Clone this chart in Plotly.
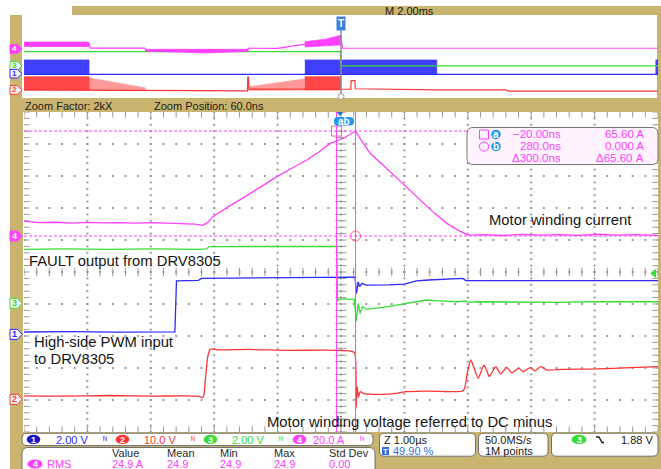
import numpy as np
import plotly.graph_objects as go

W, H = 661, 469

# ---------------------------------------------------------------------------
# Channel setup: volts (or amps) per division and ground-reference offset in
# divisions from graticule centre.
# ---------------------------------------------------------------------------
CH_SCALE = {1: 2.0, 2: 10.0, 3: 2.0, 4: 20.0}
CH_OFFSET = {1: -1.95, 2: -3.98, 3: -0.98, 4: 1.125}
CH_COLOR = {1: "#2b2bff", 2: "#ff3434", 3: "#36dd36", 4: "#ff40ff"}
CH_UNIT = {1: "V", 2: "V", 3: "V", 4: "A"}

# Zoomed record (time in microseconds)
T_CENTER = 0.05
CURSOR_T = [-0.02, 0.28]          # us
CURSOR_I = [65.6, 0.0]            # A
TRIG_LEVEL = 1.88                 # V on channel 3

# ch4: motor winding current (A)
CUR_T = [-4.95, -4.7, -4.45, -4.2, -3.95, -3.7, -3.45, -3.2, -2.95, -2.7, -2.45,
         -2.25, -2.13, -2.05, -1.97, -1.72, -1.46, -1.21, -0.96, -0.72, -0.49,
         -0.3, -0.12, 0.09, 0.28, 0.35, 0.51, 0.72, 0.93, 1.14, 1.35, 1.53, 1.72,
         1.9, 2.06, 2.3, 2.6, 2.9, 3.2, 3.5, 3.8, 4.1, 4.4, 4.7, 5.05]
CUR_A = [9.2, 8.4, 8.6, 8.1, 8.5, 8.2, 8.4, 8.0, 8.3, 7.9, 7.8,
         7.4, 6.7, 8.5, 12.1, 18.5, 24.6, 31.0, 37.1, 42.5, 47.5,
         52.5, 57.9, 61.1, 65.6, 61.0, 51.7, 44.0, 36.1, 28.2, 20.4, 14.0, 7.9,
         3.5, 0.6, 0.9, 0.3, 1.0, 0.5, 0.9, 0.4, 1.1, 0.5, 0.9, 0.4]

# ch3: FAULT output (V)
FLT_T = [-4.95, -4.3, -3.6, -2.9, -2.2, -2.07, -2.03, -1.5, -0.8, -0.2, -0.015,
         -0.005, 0.02, 0.1, 0.26, 0.29, 0.32, 0.35, 0.39, 0.46, 0.56, 0.72,
         0.93, 1.19, 1.40, 1.61, 1.9, 2.0, 2.08, 2.2, 2.6, 3.0, 3.5, 4.0, 4.5, 5.05]
FLT_V = [3.38, 3.40, 3.37, 3.40, 3.38, 3.40, 3.55, 3.56, 3.58, 3.57, 3.56,
         0.12, 0.25, 0.26, 0.26, -1.15, 0.0, -0.63, -0.21, -0.38, -0.31, -0.25,
         -0.11, 0.10, 0.21, 0.16, 0.10, 0.16, 0.06, 0.10, 0.08, 0.10, 0.06, 0.10, 0.08, 0.10]

# ch1: high-side PWM input (V)
PWM_T = [-4.95, -4.2, -3.5, -2.8, -2.57, -2.545, -2.4, -2.2, -2.15, -1.5, -0.8,
         -0.2, 0.27, 0.295, 0.32, 0.345, 0.38, 0.45, 0.6, 0.8, 1.05, 1.24, 1.43,
         1.97, 2.02, 2.1, 2.5, 3.0, 3.5, 4.0, 4.5, 5.05]
PWM_V = [0.15, 0.17, 0.14, 0.16, 0.16, 3.35, 3.36, 3.38, 3.50, 3.52, 3.55,
         3.58, 3.58, 2.56, 3.29, 2.98, 3.19, 3.08, 3.08, 3.10, 3.14, 3.35, 3.40,
         3.50, 3.36, 3.36, 3.34, 3.37, 3.35, 3.36, 3.34, 3.36]

# ch2: motor winding voltage referred to DC minus (V)
SW_T = [-4.95, -4.3, -3.6, -2.9, -2.4, -2.19, -2.15, -2.12, -2.09, -2.05, -2.01,
        -1.9, -1.4, -0.8, -0.2, 0.2, 0.265, 0.287, 0.305, 0.325, 0.355, 0.40,
        0.50, 0.70, 0.92, 1.08, 1.45, 1.98, 2.04, 2.096, 2.16, 2.216, 2.26, 2.306,
        2.35, 2.389, 2.44, 2.49, 2.53, 2.569, 2.62, 2.664, 2.70, 2.742, 2.80,
        2.847, 2.89, 2.925, 2.98, 3.031, 3.07, 3.11, 3.155, 3.2, 3.25, 3.294,
        3.556, 4.083, 4.608, 5.05]
SW_V = [1.1, 1.0, 1.2, 1.0, 1.1, 0.9, 0.6, 0.8, 6.0, 13.5, 15.7,
        15.5, 15.6, 15.3, 15.4, 15.1, 14.6, -2.8, 3.9, 0.8, 2.4, 1.9,
        1.65, 1.55, 1.9, 2.4, 2.6, 2.8, 8.0, 12.3, 9.2, 6.6, 8.7, 10.7,
        8.9, 7.1, 8.7, 10.2, 9.0, 7.9, 9.0, 10.0, 9.2, 8.3, 9.0,
        9.7, 9.2, 8.6, 9.3, 9.9, 9.4, 8.9, 9.6, 10.2, 9.7, 9.2,
        9.4, 9.5, 9.9, 10.2]

# Overview record (time in milliseconds)
OV_PWM_BURSTS = [(-10.0, -7.95), (-1.14, 3.02), (9.92, 10.0)]
OV_PWM_LO, OV_PWM_HI = -0.2, 3.4
OV_PWM_IDLE_T = [-10.0, 10.0]
OV_PWM_IDLE_V = [-0.2, -0.2]

OV_FLT_T = [-10.0, -0.02, 0.0, 10.0]
OV_FLT_V = [3.55, 3.55, 0.0, 0.0]

OV_CUR_T = [-10.0, -7.95, -7.9, -7.0, -6.2, -6.15, -4.5, -3.0, -2.93, -2.9,
            -2.0, -1.14, -0.5, -0.05, 0.0, 0.05, 3.0, 6.0, 10.0]
OV_CUR_A = [11.5, 11.5, 1.8, 1.5, 1.8, -3.5, -4.5, -3.5, 1.8, 1.8,
            1.5, 12.0, 17.0, 24.0, 24.0, 1.8, 1.6, 1.8, 1.7]
OV_CUR_BANDS = [
    ([-10.0, -7.95], [6.0, 6.0], [17.0, 17.0]),
    ([-6.18, -5.0, -4.3, -3.6, -2.93], [-6.0, -8.0, -10.0, -8.0, -6.0], [-1.0, -1.0, -2.0, -1.0, -1.0]),
    ([-1.14, -0.5, 0.0], [5.0, 8.0, 10.0], [18.0, 24.0, 34.0]),
]

OV_SW_DENSE = [(-10.0, -7.95), (-1.14, 0.0)]
OV_SW_LO, OV_SW_HI = 0.0, 16.5
OV_SW_RAMPS = [
    ([-7.95, -6.18], [0.0, -0.8], [15.0, 2.5]),
    ([-2.93, -1.14], [-0.5, 0.0], [3.7, 13.7]),
]
OV_SW_T = [-10.0, -6.18, -6.1, -2.95, -2.94, -2.92, -2.9, -1.14, 0.0, 0.02, 0.31,
           0.32, 0.44, 0.45, 2.0, 3.0, 5.2, 5.3, 10.0]
OV_SW_V = [0.0, -0.5, -1.2, -1.2, 16.0, 16.0, 1.0, 1.0, 1.0, 0.9, 0.9,
           11.6, 11.6, 1.5, 0.8, 0.0, 0.0, -1.5, -1.5]

# ---------------------------------------------------------------------------
# Screen geometry (pixels)
# ---------------------------------------------------------------------------
GX0, GX1 = 24, 658           # graticule left / right
GY0, GY1 = 112, 432          # main graticule top / bottom
OY0, OY1 = 15, 98            # overview top / bottom
OV_LO, OV_HI = -4.98, 5.35   # overview vertical extent in divisions

TAN = "#c9b570"
GRID = "#9c9c9c"
TICK = "#999999"
CYAN = "#2399ee"
FONT = "Liberation Sans, Arial, sans-serif"


def px(x):
    return x / W


def py(y):
    return 1 - y / H


shapes, ann = [], []


def rect(x0, y0, x1, y1, fill, line=None, lw=0, layer="below"):
    shapes.append(dict(type="rect", xref="paper", yref="paper",
                       x0=px(x0), x1=px(x1), y0=py(y1), y1=py(y0),
                       fillcolor=fill, line=dict(width=lw, color=line or fill),
                       layer=layer))


def rrect(x0, y0, x1, y1, r, fill, line="#6f6f6f", lw=1, layer="above"):
    p = (f"M{px(x0 + r)},{py(y0)} L{px(x1 - r)},{py(y0)} Q{px(x1)},{py(y0)} {px(x1)},{py(y0 + r)} "
         f"L{px(x1)},{py(y1 - r)} Q{px(x1)},{py(y1)} {px(x1 - r)},{py(y1)} "
         f"L{px(x0 + r)},{py(y1)} Q{px(x0)},{py(y1)} {px(x0)},{py(y1 - r)} "
         f"L{px(x0)},{py(y0 + r)} Q{px(x0)},{py(y0)} {px(x0 + r)},{py(y0)} Z")
    shapes.append(dict(type="path", xref="paper", yref="paper", path=p,
                       fillcolor=fill, line=dict(color=line, width=lw), layer=layer))


def oval(cx, cy, rx, ry, fill, line=None, lw=0):
    shapes.append(dict(type="circle", xref="paper", yref="paper",
                       x0=px(cx - rx), x1=px(cx + rx), y0=py(cy + ry), y1=py(cy - ry),
                       fillcolor=fill, line=dict(width=lw, color=line or fill), layer="above"))


def txt(x, y, s, color="#1a1a1a", size=11, anchor="left", bold=False):
    ann.append(dict(x=px(x), y=py(y), xref="paper", yref="paper", text=f"<b>{s}</b>" if bold else s,
                    showarrow=False, xanchor=anchor, yanchor="middle",
                    font=dict(family=FONT, size=size, color=color)))


def badge(cx, cy, label, color, rx=7.5, ry=4.6, size=9):
    oval(cx, cy, rx, ry, color)
    txt(cx, cy + 0.3, label, "white", size, "center", bold=True)


# Bezel: paper is tan; page margins and screen areas are white
rect(0, 0, 661, 6, "white")
rect(0, 0, 10, 469, "white")
rect(10, 6, 72, 15, "white")
rect(22, OY0, 657, OY1, "white")
rect(23, GY0, GX1, GY1, "white")

# ---------------------------------------------------------------------------
fig = go.Figure()


def ch_axis(ch, overview=False):
    return f"y{(7 if overview else 3) + ch - 1}"


def add_line(t, v, ch, overview=False, width=1.3, shape="linear"):
    fig.add_trace(go.Scatter(x=t, y=v, mode="lines", xaxis="x2" if overview else "x",
                             yaxis=ch_axis(ch, overview), hoverinfo="skip",
                             line=dict(color=CH_COLOR[ch], width=width, shape=shape,
                                       smoothing=0.6 if shape == "spline" else None)))


def add_band(t, lo, hi, ch, opacity=1.0):
    fig.add_trace(go.Scatter(x=list(t) + list(t)[::-1], y=list(hi) + list(lo)[::-1],
                             mode="lines", fill="toself", xaxis="x2", yaxis=ch_axis(ch, True),
                             fillcolor=CH_COLOR[ch], opacity=opacity, hoverinfo="skip",
                             line=dict(color=CH_COLOR[ch], width=0.8)))


def add_marks(x, y, symbol, size, color, width=1.0):
    fig.add_trace(go.Scatter(x=x, y=y, mode="markers", xaxis="x", yaxis="y", hoverinfo="skip",
                             marker=dict(symbol=symbol, size=size, color=color,
                                         line=dict(color=color, width=width))))


# Graticule: dotted division lines, crosshair and frame tick marks
divs = np.arange(-4, 5)
fine_y = np.round(np.arange(-25, 26) * 0.2, 6)
fine_x = fine_y + T_CENTER
gx, gy = np.meshgrid(divs + T_CENTER, fine_y)
add_marks(gx.ravel(), gy.ravel(), "square", 2, GRID, 0)
hx, hy = np.meshgrid(fine_x, divs)
add_marks(hx.ravel(), hy.ravel(), "square", 2, GRID, 0)
add_marks(fine_x, np.zeros_like(fine_x), "line-ns", 6, TICK)
add_marks(np.full_like(fine_y, T_CENTER), fine_y, "line-ew", 8, TICK)
add_marks(np.full_like(fine_y, T_CENTER - 5), fine_y, "line-ew", 8, TICK)
add_marks(np.full_like(fine_y, T_CENTER + 5), fine_y, "line-ew", 8, TICK)
add_marks(fine_x, np.full_like(fine_x, -5.0), "line-ns", 8, TICK)
add_marks(fine_x, np.full_like(fine_x, 5.0), "line-ns", 8, TICK)

# Overview traces
add_line(OV_CUR_T, OV_CUR_A, 4, True, 1.2)
for t, lo, hi in OV_CUR_BANDS:
    add_band(t, lo, hi, 4)
add_line(OV_FLT_T, OV_FLT_V, 3, True, 1.4)
add_line(OV_PWM_IDLE_T, OV_PWM_IDLE_V, 1, True, 1.3)
for a, b in OV_PWM_BURSTS:
    add_band([a, b], [OV_PWM_LO] * 2, [OV_PWM_HI] * 2, 1, 0.9)
add_line(OV_SW_T, OV_SW_V, 2, True, 1.2)
for a, b in OV_SW_DENSE:
    add_band([a, b], [OV_SW_LO] * 2, [OV_SW_HI] * 2, 2, 0.9)
for t, lo, hi in OV_SW_RAMPS:
    add_band(t, lo, hi, 2, 0.5)

# Zoomed traces
add_line(PWM_T, PWM_V, 1)
add_line(FLT_T, FLT_V, 3)
add_line(SW_T, SW_V, 2, shape="spline")
add_line(CUR_T, CUR_A, 4)

# Cursor markers on the current waveform
fig.add_trace(go.Scatter(x=CURSOR_T, y=CURSOR_I, mode="markers", xaxis="x", yaxis=ch_axis(4),
                         hoverinfo="skip", cliponaxis=False,
                         marker=dict(symbol=["square-open", "circle-open"], size=10,
                                     line=dict(color=CH_COLOR[4], width=1))))
# Trigger level marker (ch3) on the right edge
fig.add_trace(go.Scatter(x=[T_CENTER + 5 - 0.06], y=[TRIG_LEVEL], mode="markers", xaxis="x",
                         yaxis=ch_axis(3), hoverinfo="skip", cliponaxis=False,
                         marker=dict(symbol="triangle-left", size=8, color=CH_COLOR[3])))

# Cursor lines
for t in CURSOR_T:
    shapes.append(dict(type="line", xref="x", yref="y domain", x0=t, x1=t, y0=0, y1=1,
                       line=dict(color=CH_COLOR[4], width=1), layer="above"))
for i in CURSOR_I:
    shapes.append(dict(type="line", xref="x domain", yref=ch_axis(4), x0=0, x1=1, y0=i, y1=i,
                       line=dict(color=CH_COLOR[4], width=1, dash="3px,2px"), layer="above"))

# Channel reference tags (main + overview)
for ch in (4, 3, 1, 2):
    for ov, ppd in ((False, 32.0), (True, 8.03)):
        half = (5.0 if not ov else 4.3) / ppd * CH_SCALE[ch]
        yr = ch_axis(ch, ov)
        filled = ch == 4
        p = (f"M{px(10)},{-half} L{px(17.5)},{-half} L{px(22)},0 "
             f"L{px(17.5)},{half} L{px(10)},{half} Z")
        shapes.append(dict(type="path", xref="paper", yref=yr, path=p,
                           fillcolor=CH_COLOR[ch] if filled else "#fafafa",
                           line=dict(color=CH_COLOR[ch], width=1), layer="above"))
        ann.append(dict(x=px(14.5), y=0, xref="paper", yref=yr, text=f"<b>{ch}</b>",
                        showarrow=False, xanchor="center", yanchor="middle",
                        font=dict(family=FONT, size=9 if not ov else 8,
                                  color="white" if filled else CH_COLOR[ch])))

# Trigger / zoom markers
shapes.append(dict(type="path", xref="paper", yref="paper",
                   path=f"M{px(336.5)},{py(112)} L{px(343.5)},{py(112)} L{px(340)},{py(116)} Z",
                   fillcolor="#2a6fd8", line=dict(width=0), layer="above"))
rrect(334, 117, 354, 125.5, 4, CYAN, CYAN, 0)
txt(344, 121.4, "ab", "white", 10, "center", bold=True)

shapes.append(dict(type="line", xref="x2", yref="paper", x0=0, x1=0, y0=py(94), y1=py(29),
                   line=dict(color="#8c8c8c", width=1.5), layer="above"))
shapes.append(dict(type="circle", xref="x2", yref="paper", xsizemode="pixel", xanchor=0,
                   x0=-3, x1=3, y0=py(99.5), y1=py(93.5), fillcolor="white",
                   line=dict(color="#9a9a9a", width=1), layer="above"))
ann.append(dict(x=0, y=py(16), xref="x2", yref="paper", text="<b>T</b>", showarrow=False,
                xanchor="center", yanchor="top", bgcolor="#3c7ee2", borderpad=1,
                font=dict(family=FONT, size=10, color="white")))

# Cursor readout
rrect(467, 127.5, 658, 164.5, 6, "#fff3ff", "#777777", 1)
shapes.append(dict(type="rect", xref="paper", yref="paper", x0=px(479.5), x1=px(488.5),
                   y0=py(139), y1=py(130), line=dict(color=CH_COLOR[4], width=1), layer="above"))
oval(484, 146.5, 4.6, 4.6, "rgba(0,0,0,0)", CH_COLOR[4], 1)
badge(496, 134.5, "a", CYAN, 4.8, 4.8, 10)
badge(496, 146.5, "b", CYAN, 4.8, 4.8, 10)
cur_rows = [
    (134.5, f"−{abs(CURSOR_T[0]) * 1000:.2f}ns", f"{CURSOR_I[0]:.2f} A"),
    (146.5, f"{CURSOR_T[1] * 1000:.1f}ns", f"{CURSOR_I[1]:.3f} A"),
    (158.3, f"Δ{(CURSOR_T[1] - CURSOR_T[0]) * 1000:.1f}ns", f"Δ{abs(CURSOR_I[0] - CURSOR_I[1]):.2f} A"),
]
for y, a, b in cur_rows:
    txt(562.5, y, a, CH_COLOR[4], 11.5, "right")
    txt(645.5, y, b, CH_COLOR[4], 11.5, "right")

# Waveform labels
LBL = "#151515"
txt(486.5, 220, "Motor winding current", LBL, 14.8)
txt(26.5, 261, "FAULT output from DRV8305", LBL, 14.8)
txt(31.5, 341.5, "High-side PWM input", LBL, 14.8)
txt(31.5, 358.5, "to DRV8305", LBL, 14.8)
txt(265, 421.5, "Motor winding voltage referred to DC minus", LBL, 14.8)

# Header texts
txt(383, 10.8, "M 2.00ms", "#1a1a1a", 11)
txt(23, 106, "Zoom Factor: 2kX", "#1a1a1a", 11)
txt(152, 106, "Zoom Position: 60.0ns", "#1a1a1a", 11)

# Status bar: channel settings
rrect(22, 433.2, 373, 445.6, 5, "white", "#6f6f6f", 1)
scale_items = [(1, 33.5, 54), (2, 122.5, 142), (3, 210.5, 230), (4, 299.5, 311)]
for ch, bx, tx in scale_items:
    badge(bx, 439.4, str(ch), "#1616c8" if ch == 1 else CH_COLOR[ch], 6.8, 4.6, 9)
    s = CH_SCALE[ch]
    txt(tx, 439.6, f"{s:.2f} {CH_UNIT[ch]}" if s < 10 else f"{s:.1f} {CH_UNIT[ch]}", CH_COLOR[ch], 11)
    txt(tx + 51, 439.6, "ᴺ", CH_COLOR[ch], 9, "center")

# Status bar: measurement
rrect(22, 447.5, 375, 480, 6, "white", "#6f6f6f", 1)
for x, s in [(110, "Value"), (165, "Mean"), (218.3, "Min"), (271.5, "Max"), (326.5, "Std Dev")]:
    txt(x, 453.4, s, "#2a2a2a", 11)
badge(35, 464.0, "4", CH_COLOR[4], 7.5, 4.6, 9)
txt(45, 464.0, "RMS", CH_COLOR[4], 11)
for x, s in [(110, "24.9 A"), (165, "24.9"), (218.3, "24.9"), (271.5, "24.9"), (326.5, "0.00")]:
    txt(x, 464.0, s, CH_COLOR[4], 11)

# Status bar: timebase, acquisition, trigger
rrect(379.5, 433.2, 475.5, 456.2, 5, "white", "#6f6f6f", 1)
txt(382, 439.5, "Z 1.00µs", "#1a1a1a", 11)
rect(382, 447, 389, 455, "#2f6fd6", layer="above")
txt(385.5, 451.2, "T", "white", 8, "center", bold=True)
txt(390.5, 451.2, "49.90 %", "#2f6fd6", 11)

rrect(478.5, 433.2, 548, 456.2, 5, "white", "#6f6f6f", 1)
txt(482.5, 439.5, "50.0MS/s", "#1a1a1a", 11)
txt(482.5, 451.2, "1M points", "#1a1a1a", 11)

rrect(551.5, 433.2, 658, 456.2, 5, "white", "#6f6f6f", 1)
badge(579, 439.4, "3", CH_COLOR[3], 7.5, 4.6, 9)
shapes.append(dict(type="path", xref="paper", yref="paper",
                   path=f"M{px(596)},{py(437)} L{px(599)},{py(437)} L{px(602)},{py(442.5)} L{px(604)},{py(442.5)}",
                   line=dict(color="#1a1a1a", width=1.3), layer="above"))
txt(655, 439.5, f"{TRIG_LEVEL:.2f} V", "#1a1a1a", 11, "right")

# ---------------------------------------------------------------------------
main_dom = [py(GY1), py(GY0)]
ov_dom = [py(OY1), py(OY0)]
hidden = dict(showgrid=False, zeroline=False, showticklabels=False, ticks="", showline=False)
layout = dict(
    width=W, height=H, margin=dict(l=0, r=0, t=0, b=0),
    paper_bgcolor=TAN, plot_bgcolor="rgba(0,0,0,0)", showlegend=False,
    shapes=shapes, annotations=ann,
    xaxis=dict(domain=[px(GX0), px(GX1)], range=[T_CENTER - 5, T_CENTER + 5], anchor="y", **hidden),
    yaxis=dict(domain=main_dom, range=[-5, 5], anchor="x", **hidden),
    xaxis2=dict(domain=[px(GX0), px(GX1)], range=[-10, 10], anchor="y2", **hidden),
    yaxis2=dict(domain=ov_dom, range=[OV_LO, OV_HI], anchor="x2", **hidden),
)
for ch in (1, 2, 3, 4):
    s, off = CH_SCALE[ch], CH_OFFSET[ch]
    layout[f"yaxis{3 + ch - 1}"] = dict(overlaying="y", anchor="x", visible=False, domain=main_dom,
                                        range=[(-5 - off) * s, (5 - off) * s])
    layout[f"yaxis{7 + ch - 1}"] = dict(overlaying="y2", anchor="x2", visible=False, domain=ov_dom,
                                        range=[(OV_LO - off) * s, (OV_HI - off) * s])

fig.update_layout(**layout)
fig.write_html("out.html")
